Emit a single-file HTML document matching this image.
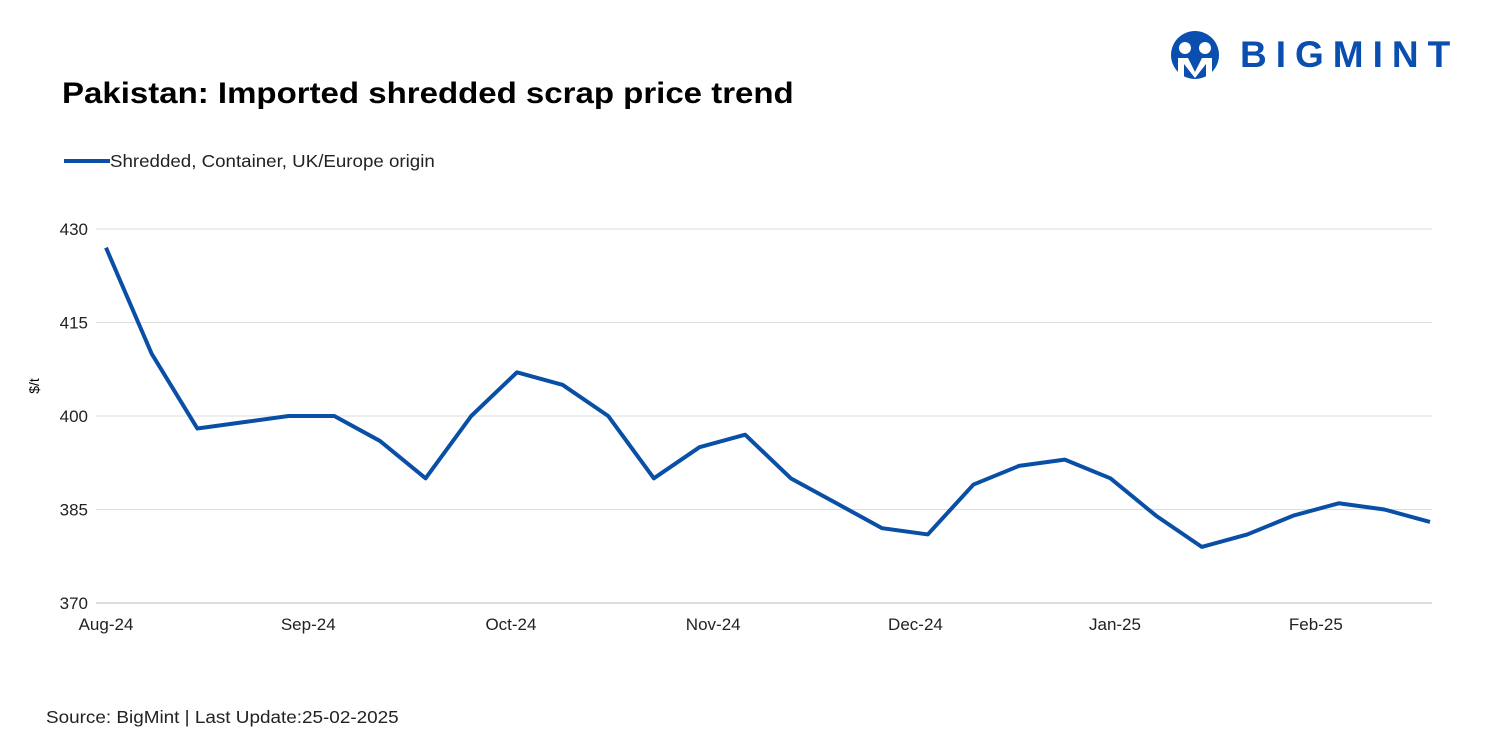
<!DOCTYPE html>
<html><head><meta charset="utf-8"><style>
body{margin:0;width:1500px;height:750px;background:#fff;font-family:"Liberation Sans",sans-serif;position:relative;overflow:hidden}
.t{position:absolute;white-space:nowrap}
</style></head><body>
<div class="t" style="left:62px;top:77px;font-size:30px;font-weight:bold;color:#000;transform:scaleX(1.1);transform-origin:left top">Pakistan: Imported shredded scrap price trend</div>
<div style="position:absolute;left:1170px;top:30px;width:290px;height:50px">
<svg width="60" height="50"><circle cx="25" cy="25" r="24" fill="#0a4fb0"/><circle cx="15" cy="18" r="6" fill="#fff"/><circle cx="35" cy="18" r="6" fill="#fff"/><path d="M8 28h10l7 14 7-14h10v20h-6V34l-11 14-11-14v14H8z" fill="#fff"/></svg>
<div class="t" style="left:70px;top:4px;font-size:37px;font-weight:bold;color:#0a4fb0;letter-spacing:9px">BIGMINT</div>
</div>
<svg style="position:absolute;left:64px;top:158px" width="46" height="6"><line x1="0" y1="3" x2="46" y2="3" stroke="#0a4fa6" stroke-width="4"/></svg>
<div class="t" style="left:110px;top:151px;font-size:17.5px;color:#222;transform:scaleX(1.07);transform-origin:left top">Shredded, Container, UK/Europe origin</div>
<div class="t" style="left:26px;top:378px;font-size:14px;transform:rotate(-90deg);transform-origin:center">$/t</div>
<div class="t" style="left:46px;top:707px;font-size:17.5px;color:#222;transform:scaleX(1.08);transform-origin:left top">Source: BigMint | Last Update:25-02-2025</div>
<svg id="chart" style="position:absolute;left:0;top:0" width="1500" height="750"></svg>
<script>
const values=[427,410,398,399,400,400,396,390,400,407,405,400,390,395,397,390,386,382,381,389,392,393,390,384,379,381,384,386,385,383];
const yTicks=[370,385,400,415,430];
const monthLabels=["Aug-24","Sep-24","Oct-24","Nov-24","Dec-24","Jan-25","Feb-25"];
const monthPos=[0,4.43,8.87,13.3,17.73,22.1,26.5];
const svg=document.getElementById('chart');const NS='http://www.w3.org/2000/svg';
const x0=106,x1=1430,yTop=229,yBot=603,yMin=370,yMax=430;
const X=i=>x0+i*(x1-x0)/(values.length-1);
const Y=v=>yBot-(v-yMin)/(yMax-yMin)*(yBot-yTop);
yTicks.forEach(t=>{
const l=document.createElementNS(NS,'line');


l.setAttribute('x1',96);l.setAttribute('x2',1432);l.setAttribute('y1',Y(t));l.setAttribute('y2',Y(t));
l.setAttribute('stroke',t==yMin?'#bbb':'#ddd');l.setAttribute('stroke-width',1);svg.appendChild(l);
const tx=document.createElementNS(NS,'text');


tx.setAttribute('x',88);tx.setAttribute('y',Y(t)+6);tx.setAttribute('text-anchor','end');tx.setAttribute('font-size','17');tx.setAttribute('fill','#222');tx.textContent=t;svg.appendChild(tx);
});
monthLabels.forEach((m,i)=>{
const tx=document.createElementNS(NS,'text');


tx.setAttribute('x',X(monthPos[i]));tx.setAttribute('y',630);tx.setAttribute('text-anchor','middle');tx.setAttribute('font-size','17');tx.setAttribute('fill','#222');tx.textContent=m;svg.appendChild(tx);
});
const p=document.createElementNS(NS,'polyline');


p.setAttribute('points',values.map((v,i)=>X(i)+','+Y(v)).join(' '));
p.setAttribute('fill','none');p.setAttribute('stroke','#0a4fa6');p.setAttribute('stroke-width',4);p.setAttribute('stroke-linejoin','round');
svg.appendChild(p);
</script>
</body></html>
